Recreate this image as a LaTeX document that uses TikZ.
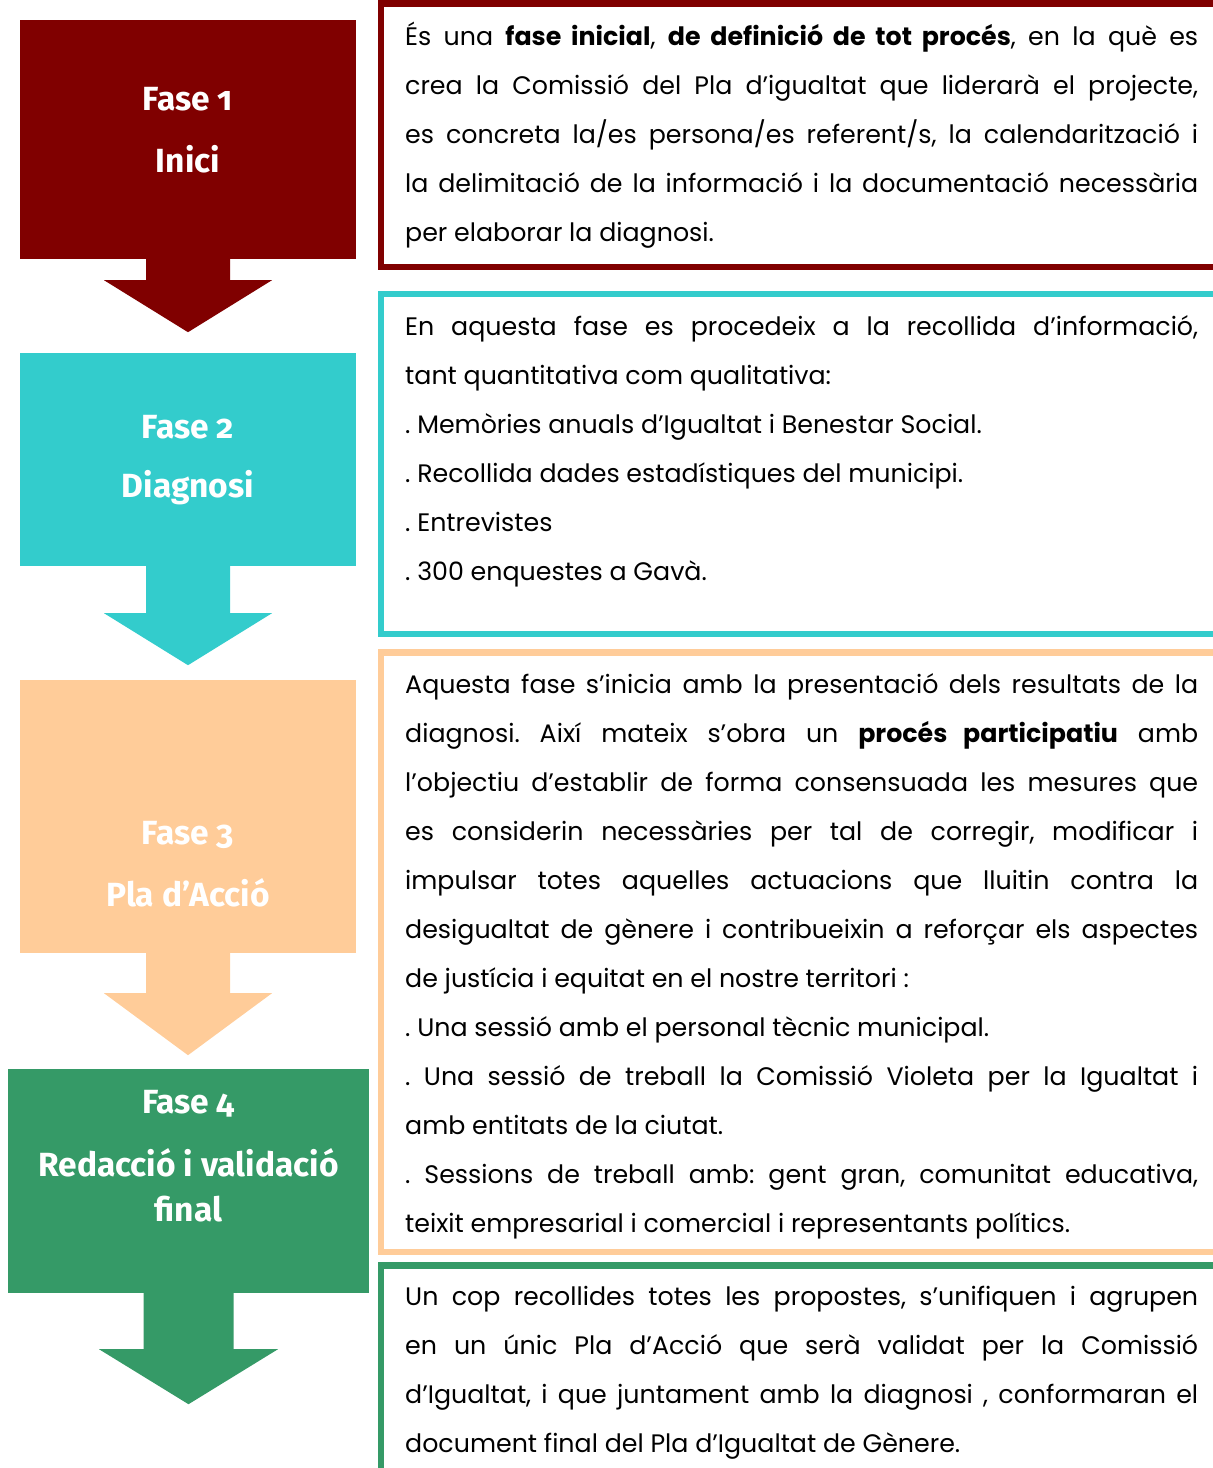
\documentclass[tikz,border=0pt]{standalone}
\usepackage{fontspec}
\setmainfont{Poppins}
\newfontfamily\titlefont[Numbers=OldStyle]{Fira Sans}
\definecolor{fred}{HTML}{800000}
\definecolor{fteal}{HTML}{33CCCC}
\definecolor{fpeach}{HTML}{FFCC99}
\definecolor{fgreen}{HTML}{359A67}
\tikzset{
    phase/.style={inner sep=0pt, minimum width=336, anchor=center},
    ttl/.style={anchor=base, text=white, font=\titlefont\bfseries\fontsize{33.5}{45}\selectfont},
    desc/.style={anchor=base west, inner sep=0pt, text width=793, align=justify,
        font=\fontsize{25.3}{49}\selectfont\frenchspacing},
    frame/.style={line width=6.5}
}
\begin{document}
\begin{tikzpicture}[x=1pt,y=-1pt]
    \useasboundingbox (0,0) rectangle (1213,1468);
    %% phase boxes
    \node[phase, fill=fred, minimum height=239] (p1) at (188,139.5) {};
    \node[phase, fill=fteal, minimum height=213] (p2) at (188,459.5) {};
    \node[phase, fill=fpeach, minimum height=273] (p3) at (188,816.5) {};
    \node[phase, fill=fgreen, minimum width=361, minimum height=224] (p4) at (188.5,1181) {};
    %% arrows
    \fill[fred] (p1.south) ++(-42,0) -- ++(0,21) -- ++(-42,0) -- ++(84,52) -- ++(84,-52) -- ++(-42,0) -- ++(0,-21) -- cycle;
    \fill[fteal] (p2.south) ++(-42,0) -- ++(0,47) -- ++(-42,0) -- ++(84,52) -- ++(84,-52) -- ++(-42,0) -- ++(0,-47) -- cycle;
    \fill[fpeach] (p3.south) ++(-42,0) -- ++(0,40) -- ++(-42,0) -- ++(84,62) -- ++(84,-62) -- ++(-42,0) -- ++(0,-40) -- cycle;
    \fill[fgreen] (p4.south) ++(-45,0) -- ++(0,56) -- ++(-44.5,0) -- ++(89.5,55) -- ++(89.5,-55) -- ++(-44.5,0) -- ++(0,-56) -- cycle;
    %% titles
    \node[ttl] (t1a) at (188,110) {Fase 1};
    \node[ttl] (t1b) at (188,172) {Inici};
    \node[ttl] (t2a) at (188,438) {Fase 2};
    \node[ttl] (t2b) at (188,497) {Diagnosi};
    \node[ttl] (t3a) at (188,844) {Fase 3};
    \node[ttl] (t3b) at (188,906) {Pla d’Acció};
    \node[ttl] (t4a) at (188.5,1113) {Fase 4};
    \node[ttl] (t4b) at (188.5,1176) {Redacció i validació};
    \node[ttl] (t4c) at (188.5,1221) {final};
    %% frames
    \draw[frame, fred] (381,3.5) rectangle (1232,267);
    \draw[frame, fteal] (381,294) rectangle (1232,634);
    \draw[frame, fpeach] (381,652.5) rectangle (1232,1252);
    \draw[frame, fgreen] (381,1265.5) rectangle (1232,1490);
    %% descriptions
    \node[desc] (d1) at (405,45) {És una \textbf{fase inicial}, \textbf{de definició de tot procés}, en la què es\linebreak
        crea la Comissió del Pla d’igualtat que liderarà el projecte,\linebreak
        es concreta la/es persona/es referent/s, la calendarització i\linebreak
        la delimitació de la informació i la documentació necessària\linebreak
        per elaborar la diagnosi.};
    \node[desc] (d2) at (405,335) {En aquesta fase es procedeix a la recollida d’informació,\linebreak
        tant quantitativa com qualitativa:\par
        . Memòries anuals d’Igualtat i Benestar Social.\par
        . Recollida dades estadístiques del municipi.\par
        . Entrevistes\par
        . 300 enquestes a Gavà.};
    \node[desc] (d3) at (405,693) {Aquesta fase s’inicia amb la presentació dels resultats de la\linebreak
        diagnosi. Així mateix s’obra un \textbf{procés participatiu} amb\linebreak
        l’objectiu d’establir de forma consensuada les mesures que\linebreak
        es considerin necessàries per tal de corregir, modificar i\linebreak
        impulsar totes aquelles actuacions que lluitin contra la\linebreak
        desigualtat de gènere i contribueixin a reforçar els aspectes\linebreak
        de justícia i equitat en el nostre territori :\par
        . Una sessió amb el personal tècnic municipal.\par
        . Una sessió de treball la Comissió Violeta per la Igualtat i\linebreak
        amb entitats de la ciutat.\par
        . Sessions de treball amb: gent gran, comunitat educativa,\linebreak
        teixit empresarial i comercial i representants polítics.};
    \node[desc] (d4) at (405,1305) {Un cop recollides totes les propostes, s’unifiquen i agrupen\linebreak
        en un únic Pla d’Acció que serà validat per la Comissió\linebreak
        d’Igualtat, i que juntament amb la diagnosi , conformaran el\linebreak
        document final del Pla d’Igualtat de Gènere.};
\end{tikzpicture}
\end{document}
